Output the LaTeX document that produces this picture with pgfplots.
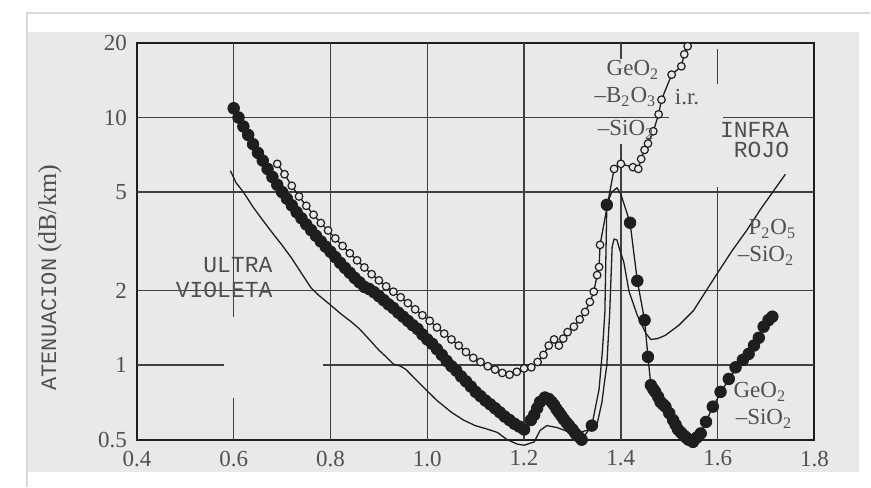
\documentclass[border=0pt]{standalone}
\usepackage{fontspec}
\setmainfont{Liberation Serif}
\newfontfamily\typew{Liberation Mono}
\usepackage{pgfplots}
\usepackage{pgfplotstable}
\pgfplotsset{compat=1.18}
\definecolor{page}{HTML}{E9E9E9}
\definecolor{ink}{HTML}{1E1E1E}
\definecolor{txt}{HTML}{505050}
\tikzset{gl/.style={ink!85, line width=0.7pt}}

% GeO2-SiO2, dense dots then sparse ones
\pgfplotstableread{
x y
0.60 10.9
0.61 10.0
0.62 9.2
0.63 8.5
0.64 7.8
0.65 7.2
0.66 6.7
0.67 6.2
0.68 5.75
0.69 5.35
0.70 5.0
0.71 4.7
0.72 4.42
0.73 4.15
0.74 3.92
0.75 3.7
0.76 3.51
0.77 3.33
0.78 3.16
0.79 3.01
0.80 2.87
0.81 2.73
0.82 2.59
0.83 2.47
0.84 2.36
0.85 2.25
0.86 2.16
0.87 2.07
0.88 2.03
0.89 1.97
0.90 1.90
0.91 1.83
0.92 1.76
0.93 1.70
0.94 1.63
0.95 1.57
0.96 1.51
0.97 1.45
0.98 1.40
0.99 1.33
1.00 1.27
1.01 1.22
1.02 1.16
1.03 1.10
1.04 1.04
1.05 0.99
1.06 0.95
1.07 0.90
1.08 0.86
1.09 0.82
1.10 0.78
1.11 0.75
1.12 0.72
1.13 0.695
1.14 0.67
1.15 0.645
1.16 0.62
1.17 0.60
1.18 0.58
1.19 0.565
1.20 0.55
1.214 0.60
1.221 0.63
1.227 0.67
1.233 0.71
1.243 0.74
1.251 0.73
1.257 0.71
1.262 0.69
1.267 0.665
1.272 0.645
1.277 0.625
1.282 0.605
1.288 0.585
1.293 0.57
1.300 0.55
1.306 0.53
1.313 0.515
1.319 0.50
1.340 0.57
1.371 4.44
1.419 3.76
1.434 2.19
1.449 1.52
1.456 1.08
1.462 0.83
1.467 0.80
1.471 0.78
1.477 0.745
1.482 0.71
1.487 0.695
1.492 0.68
1.500 0.64
1.508 0.60
1.513 0.575
1.518 0.55
1.524 0.535
1.530 0.52
1.535 0.51
1.540 0.50
1.549 0.49
1.557 0.51
1.565 0.53
1.576 0.59
1.590 0.68
1.606 0.78
1.623 0.88
1.637 0.98
1.652 1.05
1.664 1.11
1.675 1.20
1.685 1.29
1.695 1.43
1.705 1.52
1.713 1.57
}\geodots

% line through the GeO2-SiO2 dots, with the peak
\pgfplotstableread{
x y
0.60 10.9
0.70 5.0
0.80 2.87
0.90 1.90
1.00 1.27
1.10 0.78
1.20 0.55
1.221 0.63
1.243 0.74
1.262 0.69
1.293 0.57
1.319 0.50
1.340 0.57
1.355 0.80
1.362 1.15
1.367 1.64
1.371 4.44
1.381 5.0
1.392 5.2
1.400 4.9
1.419 3.76
1.434 2.19
1.449 1.52
1.456 1.08
1.462 0.83
1.482 0.71
1.508 0.60
1.530 0.52
1.549 0.49
1.565 0.53
1.590 0.68
1.623 0.88
1.652 1.05
1.675 1.20
1.695 1.43
1.713 1.57
}\geoline

% GeO2-B2O3-SiO2
\pgfplotstableread{
x y
0.690 6.5
0.705 5.9
0.720 5.3
0.735 4.8
0.750 4.4
0.765 4.05
0.780 3.75
0.795 3.5
0.810 3.25
0.825 3.03
0.840 2.83
0.855 2.65
0.870 2.48
0.885 2.33
0.900 2.2
0.915 2.08
0.930 1.98
0.945 1.88
0.960 1.78
0.975 1.68
0.990 1.59
1.005 1.51
1.020 1.42
1.035 1.34
1.050 1.27
1.065 1.20
1.080 1.13
1.095 1.07
1.110 1.03
1.125 0.99
1.140 0.96
1.155 0.93
1.170 0.915
1.185 0.94
1.200 0.97
1.215 0.98
1.228 1.03
1.240 1.10
1.251 1.20
1.262 1.27
1.272 1.20
1.281 1.28
1.290 1.36
1.303 1.43
1.315 1.53
1.326 1.64
1.336 1.80
1.344 1.98
1.351 2.31
1.355 2.49
1.357 3.06
1.386 6.2
1.400 6.5
1.425 6.3
1.436 6.2
1.442 6.8
1.449 7.4
1.456 7.85
1.467 8.8
1.478 10.3
1.484 11.8
1.505 14.9
1.525 16.1
1.531 18.0
1.538 19.4
}\geob

% P2O5-SiO2
\pgfplotstableread{
x y
0.593 6.1
0.605 5.45
0.62 5.0
0.64 4.35
0.66 3.85
0.68 3.42
0.70 3.05
0.72 2.7
0.74 2.35
0.76 2.05
0.775 1.92
0.80 1.75
0.82 1.62
0.844 1.49
0.86 1.4
0.88 1.27
0.90 1.15
0.915 1.08
0.93 1.01
0.945 0.99
0.956 0.96
0.975 0.88
0.996 0.80
1.02 0.72
1.05 0.645
1.075 0.60
1.099 0.57
1.12 0.555
1.145 0.535
1.165 0.50
1.186 0.48
1.20 0.475
1.221 0.49
1.233 0.545
1.247 0.57
1.268 0.56
1.295 0.535
1.315 0.535
1.336 0.55
1.351 0.58
1.361 0.71
1.366 0.85
1.371 1.0
1.377 1.64
1.382 3.0
1.386 3.23
1.392 3.2
1.397 2.95
1.406 2.61
1.417 1.98
1.434 1.59
1.452 1.34
1.462 1.27
1.476 1.28
1.492 1.32
1.52 1.45
1.55 1.66
1.575 1.98
1.60 2.36
1.63 2.9
1.66 3.5
1.69 4.3
1.72 5.2
1.74 5.9
}\pdos

\begin{document}
\begin{tikzpicture}
\fill[white] (-68.5pt,-23.5pt) rectangle (367pt,220pt);
\fill[page] (-54.5pt,-16pt) rectangle (361.5pt,204pt);
\draw[black!15, line width=0.6pt] (-55pt,-23.5pt) -- (-55pt,213.5pt) -- (367pt,213.5pt);
\begin{axis}[
  at={(0pt,0pt)}, anchor=south west,
  scale only axis, width=339pt, height=198.5pt,
  xmin=0.4, xmax=1.8, ymin=0.5, ymax=20,
  ymode=log, clip=false,
  xtick={0.4,0.6,0.8,1.0,1.2,1.4,1.6,1.8},
  xticklabels={0.4,0.6,0.8,1.0,1.2,1.4,1.6,1.8},
  ytick={0.5,1,2,5,10,20}, yticklabels={0.5,1,2,5,10,20},
  minor ytick={}, major tick length=0pt,
  tick label style={font=\fontsize{11.5}{13}\selectfont, text=txt},
  xticklabel style={yshift=-2pt},
  yticklabel style={xshift=-1.5pt},
  axis line style={ink, line width=1pt},
]
\draw[gl] (axis cs:0.6,20) -- (axis cs:0.6,1.56);
\draw[gl] (axis cs:0.6,0.74) -- (axis cs:0.6,0.5);
\draw[gl] (axis cs:0.8,20) -- (axis cs:0.8,0.5);
\draw[gl] (axis cs:1.0,20) -- (axis cs:1.0,0.5);
\draw[gl] (axis cs:1.2,20) -- (axis cs:1.2,0.5);
\draw[gl] (axis cs:1.4,20) -- (axis cs:1.4,17.3);
\draw[gl] (axis cs:1.4,7.8) -- (axis cs:1.4,0.5);
\draw[gl] (axis cs:1.6,18.9) -- (axis cs:1.6,13.6);
\draw[gl] (axis cs:1.6,5.26) -- (axis cs:1.6,0.5);
\draw[gl] (axis cs:0.4,1) -- (axis cs:0.579,1);
\draw[gl] (axis cs:0.785,1) -- (axis cs:1.8,1);
\draw[gl] (axis cs:0.4,2) -- (axis cs:1.8,2);
\draw[gl] (axis cs:0.4,5) -- (axis cs:1.8,5);
\draw[gl] (axis cs:0.4,10) -- (axis cs:1.499,10);
\draw[gl] (axis cs:1.612,10) -- (axis cs:1.8,10);

\addplot[ink, line width=0.65pt, no marks] table {\pdos};
\addplot[ink, line width=0.65pt, no marks] table {\geoline};
\addplot[only marks, mark=*, mark size=2.9pt, mark options={fill=ink, draw=ink}] table {\geodots};
\addplot[ink, line width=0.65pt, mark=*, mark size=1.9pt,
  mark options={fill=page, draw=ink, line width=0.6pt}] table {\geob};
\end{axis}

\begin{scope}[every node/.style={inner sep=0pt, text=txt, font=\fontsize{11.5}{13}\selectfont}]
\node[anchor=east] at (68pt,87.5pt) {\typew\fontsize{11.5}{13}\selectfont ULTRA};
\node[anchor=east] at (68pt,75pt) {\typew\fontsize{11.5}{13}\selectfont VIOLETA};
\node[anchor=east] at (326.5pt,155pt) {\typew\fontsize{11.5}{13}\selectfont INFRA};
\node[anchor=east] at (326.5pt,145pt) {\typew\fontsize{11.5}{13}\selectfont ROJO};
\node[anchor=east] at (261.5pt,185pt) {GeO\textsubscript{2}};
\node[anchor=east] at (260pt,171.5pt) {--B\textsubscript{2}O\textsubscript{3}};
\node[anchor=west] at (269pt,171.5pt) {i.r.};
\node[anchor=east] at (259pt,155pt) {--SiO\textsubscript{2}};
\node[anchor=east] at (330pt,105.5pt) {P\textsubscript{2}O\textsubscript{5}};
\node[anchor=east] at (329pt,92pt) {--SiO\textsubscript{2}};
\node[anchor=east] at (325pt,24pt) {GeO\textsubscript{2}};
\node[anchor=east] at (328pt,10.5pt) {--SiO\textsubscript{2}};
\node[rotate=90] at (-43.5pt,81pt) {{\typew\fontsize{11}{13}\selectfont ATENUACION} {\fontsize{13}{14}\selectfont(dB/km)}};
\end{scope}
\end{tikzpicture}
\end{document}
